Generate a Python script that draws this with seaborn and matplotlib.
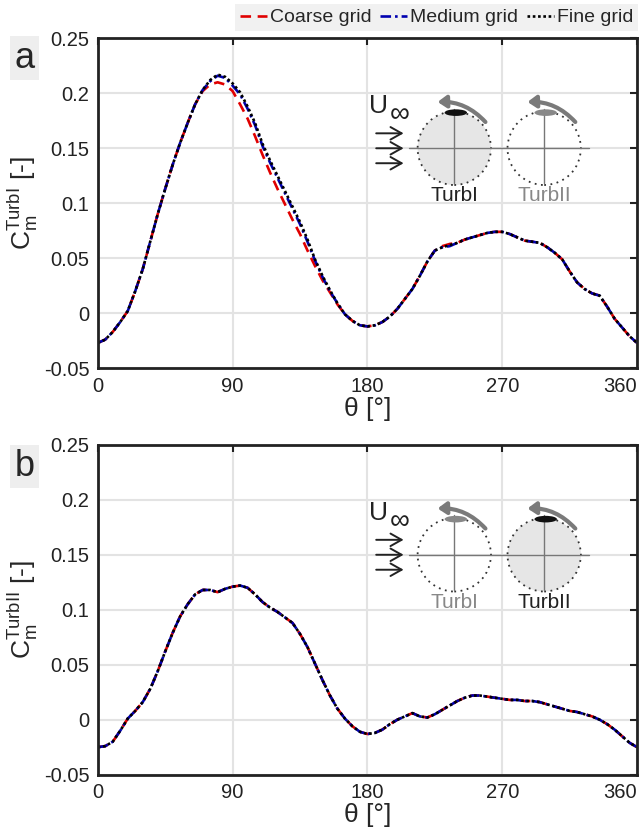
import numpy as np
import pandas as pd
import matplotlib
matplotlib.use("Agg")
import matplotlib.pyplot as plt
import seaborn as sns
from matplotlib.patches import Ellipse, FancyArrowPatch
from matplotlib.lines import Line2D

# ---------------- data ----------------
theta = [0, 5, 10, 15, 20, 25, 30, 35, 40, 45, 50, 55, 60, 65, 70, 75, 80, 85, 90,
         95, 100, 105, 110, 115, 120, 125, 130, 135, 140, 145, 150, 155, 160, 165,
         170, 175, 180, 185, 190, 195, 200, 205, 210, 215, 220, 225, 230, 235, 240,
         245, 250, 255, 260, 265, 270, 275, 280, 285, 290, 295, 300, 305, 310, 315,
         320, 325, 330, 335, 340, 345, 350, 355, 360]

a_fine = [-0.027, -0.024, -0.017, -0.008, 0.002, 0.020, 0.040, 0.065, 0.090, 0.113,
          0.135, 0.155, 0.173, 0.190, 0.203, 0.212, 0.217, 0.215, 0.209, 0.201,
          0.188, 0.173, 0.154, 0.139, 0.125, 0.111, 0.097, 0.083, 0.067, 0.049,
          0.034, 0.021, 0.009, -0.001, -0.007, -0.011, -0.012, -0.011, -0.008,
          -0.003, 0.004, 0.013, 0.022, 0.034, 0.047, 0.057, 0.060, 0.062, 0.064,
          0.067, 0.069, 0.071, 0.073, 0.074, 0.074, 0.072, 0.069, 0.066, 0.065,
          0.064, 0.060, 0.055, 0.049, 0.038, 0.028, 0.022, 0.018, 0.016, 0.006,
          -0.005, -0.013, -0.021, -0.027]
a_medium = [-0.027, -0.024, -0.017, -0.008, 0.002, 0.020, 0.040, 0.065, 0.090, 0.113,
            0.135, 0.155, 0.173, 0.190, 0.203, 0.211, 0.216, 0.214, 0.207, 0.199,
            0.186, 0.171, 0.152, 0.137, 0.123, 0.109, 0.095, 0.081, 0.065, 0.048,
            0.033, 0.020, 0.009, -0.001, -0.007, -0.011, -0.012, -0.011, -0.008,
            -0.003, 0.004, 0.013, 0.022, 0.034, 0.047, 0.057, 0.060, 0.061, 0.064,
            0.067, 0.069, 0.071, 0.073, 0.074, 0.074, 0.072, 0.069, 0.066, 0.065,
            0.064, 0.060, 0.055, 0.049, 0.038, 0.028, 0.022, 0.018, 0.016, 0.006,
            -0.005, -0.013, -0.021, -0.027]
a_coarse = [-0.027, -0.024, -0.017, -0.008, 0.002, 0.020, 0.040, 0.065, 0.090, 0.113,
            0.135, 0.155, 0.173, 0.190, 0.202, 0.208, 0.210, 0.208, 0.202, 0.190,
            0.177, 0.161, 0.144, 0.128, 0.113, 0.099, 0.085, 0.072, 0.057, 0.043,
            0.030, 0.019, 0.008, -0.001, -0.007, -0.011, -0.012, -0.011, -0.008,
            -0.003, 0.004, 0.013, 0.022, 0.034, 0.047, 0.057, 0.061, 0.063, 0.064,
            0.067, 0.069, 0.071, 0.073, 0.074, 0.074, 0.072, 0.069, 0.066, 0.065,
            0.064, 0.060, 0.055, 0.049, 0.038, 0.028, 0.022, 0.018, 0.016, 0.006,
            -0.005, -0.013, -0.021, -0.027]

b_fine = [-0.025, -0.024, -0.020, -0.010, 0.001, 0.008, 0.016, 0.028, 0.044, 0.062,
          0.079, 0.094, 0.105, 0.114, 0.118, 0.118, 0.116, 0.119, 0.121, 0.122,
          0.120, 0.114, 0.107, 0.102, 0.098, 0.093, 0.088, 0.078, 0.066, 0.051,
          0.036, 0.022, 0.010, 0.001, -0.006, -0.011, -0.013, -0.012, -0.009,
          -0.004, 0.000, 0.003, 0.006, 0.003, 0.002, 0.005, 0.009, 0.013, 0.017,
          0.020, 0.022, 0.022, 0.021, 0.020, 0.019, 0.018, 0.018, 0.017, 0.017,
          0.016, 0.014, 0.012, 0.010, 0.008, 0.007, 0.005, 0.003, 0.000, -0.004,
          -0.009, -0.015, -0.021, -0.025]
b_medium = list(b_fine)
b_coarse = list(b_fine)

xticks = [0, 90, 180, 270, 360]
xtick_labels = ["0", "90", "180", "270", "360"]
yticks = [-0.05, 0, 0.05, 0.1, 0.15, 0.2, 0.25]
ytick_labels = ["-0.05", "0", "0.05", "0.1", "0.15", "0.2", "0.25"]
series_names = ["Coarse grid", "Medium grid", "Fine grid"]

# ---------------- style ----------------
sns.set_style("white")
plt.rcParams["font.family"] = ["Liberation Sans", "DejaVu Sans"]
plt.rcParams["mathtext.fontset"] = "custom"
plt.rcParams["mathtext.rm"] = "Liberation Sans"
plt.rcParams["mathtext.it"] = "Liberation Sans"

colors = {"Coarse grid": "#e00000", "Medium grid": "#0000b0", "Fine grid": "#000000"}
dashes = {"Coarse grid": (4, 2.5), "Medium grid": (4, 1.5, 1, 1.5), "Fine grid": (1, 1)}

fig = plt.figure(figsize=(6.39, 8.33), dpi=100)
ax_a = fig.add_axes([0.153, 0.558, 0.844, 0.396])
ax_b = fig.add_axes([0.153, 0.070, 0.844, 0.396])


def draw_panel(ax, coarse, medium, fine, sup, active):
    df = pd.DataFrame({
        "theta": theta * 3,
        "cm": coarse + medium + fine,
        "grid": ["Coarse grid"] * len(theta) + ["Medium grid"] * len(theta) + ["Fine grid"] * len(theta),
    })
    sns.lineplot(data=df, x="theta", y="cm", hue="grid", style="grid",
                 palette=colors, dashes=dashes, hue_order=series_names,
                 style_order=series_names, linewidth=1.9, legend=False, ax=ax,
                 sort=False)
    ax.set_xlim(0, 360)
    ax.set_ylim(-0.05, 0.25)
    ax.set_xticks(xticks)
    ax.set_xticklabels(xtick_labels)
    ax.get_xticklabels()[-1].set_horizontalalignment("right")
    ax.set_yticks(yticks)
    ax.set_yticklabels(ytick_labels)
    ax.grid(True, color="#e3e3e3", linewidth=1.5)
    ax.set_axisbelow(True)
    ax.tick_params(direction="in", top=True, right=True, length=5, width=1.5,
                   labelsize=14.5, colors="#222222", pad=6)
    for s in ax.spines.values():
        s.set_linewidth(2)
        s.set_color("#222222")
    ax.set_xlabel("θ [°]", fontsize=19, labelpad=1)
    ax.set_ylabel(r"$\mathregular{C_m^{" + sup + "}}$ [-]", fontsize=19, labelpad=3)

    # ---- inset sketch ----
    r_t = 24.5
    r_v = r_t * 1.5 / 1100.0
    c1, c2, cy = 238, 298, 0.150
    fills = ("#e6e6e6", "none") if active == 1 else ("none", "#e6e6e6")
    for cx, fc in zip((c1, c2), fills):
        ax.add_patch(Ellipse((cx, cy), 2 * r_t, 2 * r_v, facecolor=fc,
                             edgecolor="#333333", linestyle=(0, (1, 2.5)), linewidth=1.3, zorder=3))
    ax.plot([208, 328], [cy, cy], color="#777777", linewidth=1, zorder=4)
    for cx in (c1, c2):
        ax.plot([cx, cx], [cy + 0.036, cy - 0.032], color="#777777", linewidth=1, zorder=4)
    foil_cols = ("#111111", "#888888") if active == 1 else ("#888888", "#111111")
    for cx, fcol in zip((c1, c2), foil_cols):
        ax.add_patch(Ellipse((cx + 1, cy + r_v - 0.001), 15, 0.0060, facecolor=fcol,
                             edgecolor="none", zorder=5))
        ax.add_patch(FancyArrowPatch((cx + 22, cy + 0.022), (cx - 13, cy + 0.042),
                                     connectionstyle="arc3,rad=0.25",
                                     arrowstyle="-|>,head_length=5,head_width=3.5",
                                     color="#7a7a7a", linewidth=3.0, zorder=5))
    ax.text(187.5, cy + 0.038, "U", fontsize=19, ha="center", va="center", color="#222222")
    ax.text(201.5, cy + 0.030, "∞", fontsize=20, ha="center", va="center", color="#222222")
    for dy in (0.0136, 0.0, -0.0136):
        ax.annotate("", xy=(206, cy + dy), xytext=(184, cy + dy),
                    arrowprops=dict(arrowstyle="->,head_length=0.8,head_width=0.45",
                                    color="#222222", lw=1.4))
    lab_cols = ("#222222", "#888888") if active == 1 else ("#888888", "#222222")
    ax.text(c1, cy - 0.043, "TurbI", fontsize=15, ha="center", va="center", color=lab_cols[0])
    ax.text(c2, cy - 0.043, "TurbII", fontsize=15, ha="center", va="center", color=lab_cols[1])


draw_panel(ax_a, a_coarse, a_medium, a_fine, "TurbI", 1)
draw_panel(ax_b, b_coarse, b_medium, b_fine, "TurbII", 2)

# panel letters
fig.text(0.038, 0.930, "a", fontsize=26, ha="center", va="center",
         bbox=dict(facecolor="#eeeeee", edgecolor="none", boxstyle="square,pad=0.12"))
fig.text(0.038, 0.440, "b", fontsize=26, ha="center", va="center",
         bbox=dict(facecolor="#eeeeee", edgecolor="none", boxstyle="square,pad=0.12"))

# legend
handles = [Line2D([0], [0], color=colors[n], dashes=dashes[n], linewidth=1.9) for n in series_names]
leg = fig.legend(handles, series_names, loc="upper right", bbox_to_anchor=(1.005, 1.0),
                 ncol=3, fontsize=14, frameon=True, handlelength=1.4, handletextpad=0.15,
                 columnspacing=0.45, borderpad=0.25, fancybox=False, borderaxespad=0.2)
leg.get_frame().set_facecolor("#eeeeee")
leg.get_frame().set_edgecolor("none")

fig.savefig("out.png", dpi=100)
